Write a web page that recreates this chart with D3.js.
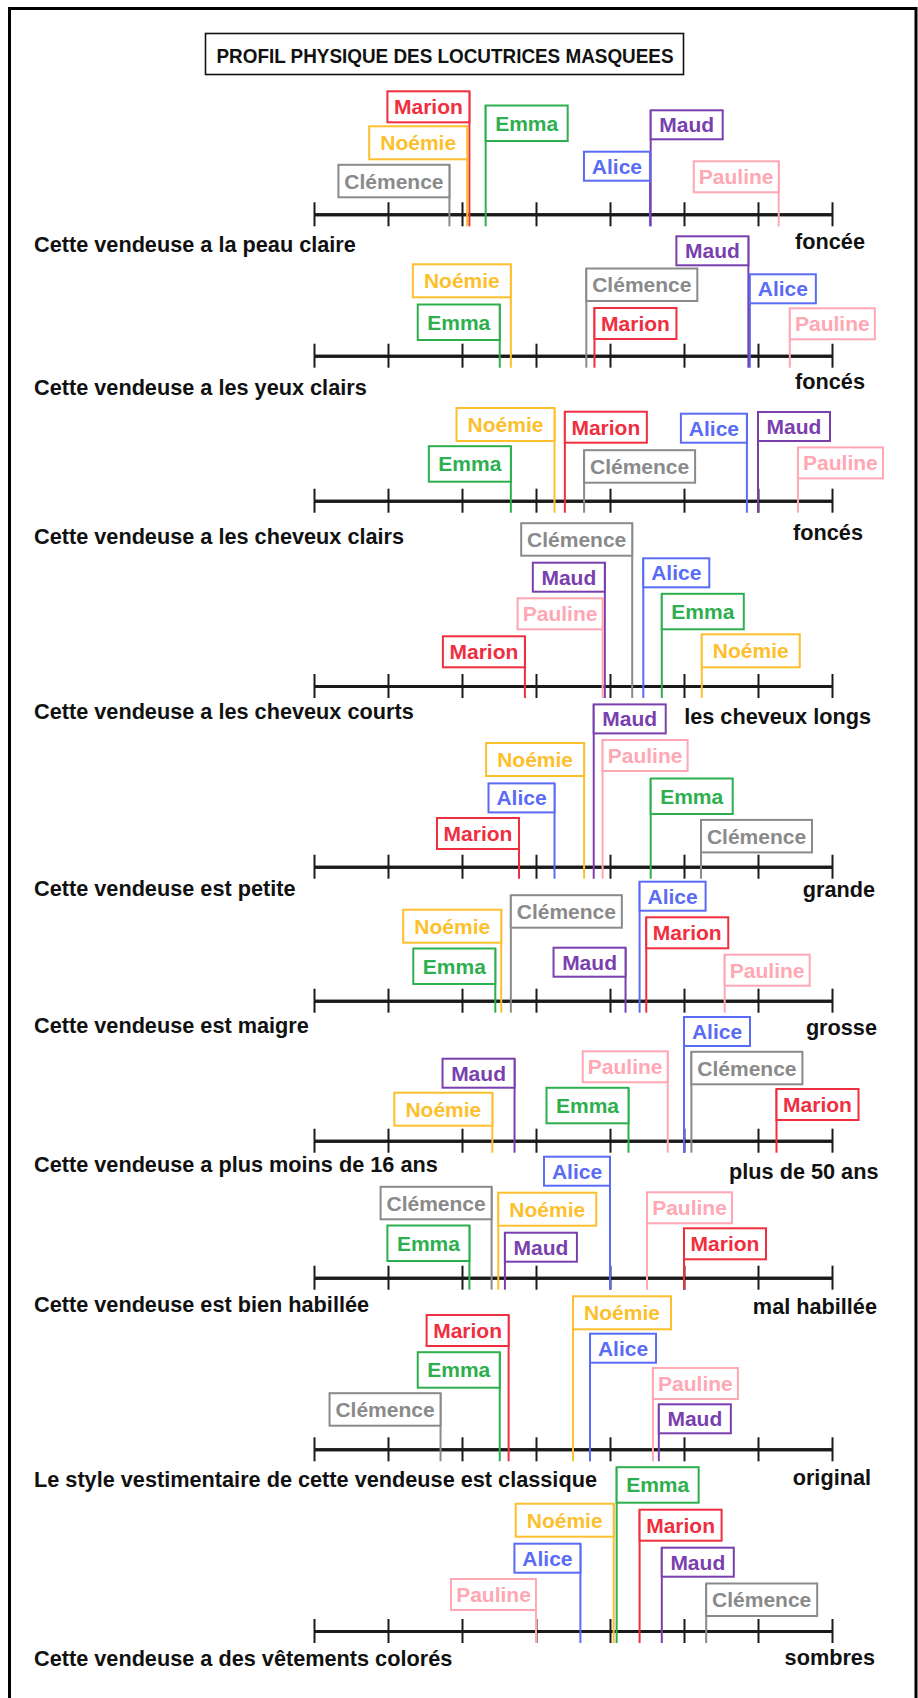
<!DOCTYPE html>
<html>
<head>
<meta charset="utf-8">
<script src="https://cdn.jsdelivr.net/npm/d3@7"></script>
<style>
  html, body { margin: 0; background: #fff; }
  svg { display: block; }
</style>
</head>
<body>
<script>
// --- data -------------------------------------------------------------
const title = 'PROFIL PHYSIQUE DES LOCUTRICES MASQUEES';
const names = ['Alice', 'Clémence', 'Emma', 'Marion', 'Maud', 'Noémie', 'Pauline'];
const leftLabels = [
  'Cette vendeuse a la peau claire',
  'Cette vendeuse a les yeux clairs',
  'Cette vendeuse a les cheveux clairs',
  'Cette vendeuse a les cheveux courts',
  'Cette vendeuse est petite',
  'Cette vendeuse est maigre',
  'Cette vendeuse a plus moins de 16 ans',
  'Cette vendeuse est bien habillée',
  'Le style vestimentaire de cette vendeuse est classique',
  'Cette vendeuse a des vêtements colorés'
];
const rightLabels = ['foncée', 'foncés', 'foncés', 'les cheveux longs', 'grande', 'grosse',
  'plus de 50 ans', 'mal habillée', 'original', 'sombres'];
const scaleTicks = [0, 1, 2, 3, 4, 5, 6, 7];

// position on the scale (0 = left end, 7 = right end), one value per item
const alice    = [4.54, 5.89, 5.85, 4.45, 3.25, 4.40, 5.00, 4.00, 3.73, 3.60];
const clemence = [1.83, 3.68, 3.65, 4.30, 5.23, 2.66, 5.10, 2.40, 1.71, 5.30];
const emma     = [2.32, 2.51, 2.66, 4.70, 4.55, 2.45, 4.25, 2.10, 2.51, 4.09];
const marion   = [2.10, 3.79, 3.39, 2.85, 2.77, 4.49, 6.25, 5.00, 2.63, 4.40];
const maud     = [4.55, 5.87, 6.00, 3.93, 3.78, 4.21, 2.71, 2.58, 4.66, 4.70];
const noemie   = [2.07, 2.66, 3.25, 5.24, 3.65, 2.53, 2.41, 2.49, 3.50, 4.05];
const pauline  = [6.28, 6.43, 6.54, 3.90, 3.90, 5.55, 4.78, 4.50, 4.58, 3.00];

const scores = {
  'Alice': alice, 'Clémence': clemence, 'Emma': emma, 'Marion': marion,
  'Maud': maud, 'Noémie': noemie, 'Pauline': pauline
};

// --- layout -----------------------------------------------------------
const width = 918;
const height = 1698;
const axisY = [214.3, 355.7, 500.7, 686, 866.7, 1000.7, 1140.7, 1277.7, 1449.3, 1631];
const leftBase = [38, 39.6, 42.9, 32.7, 29, 32, 31.3, 34, 37.7, 34.7];
const rightBase = [34.3, 33.3, 39.6, 37.6, 30.3, 34.6, 38.6, 36, 36, 34.3];
const rightEnd = [865, 865, 863, 871, 875, 877, 878.5, 877, 871, 875];

// which side of its stick each name box sits, and how high its bottom is above the axis
const sides = {
  'Alice':    'LRLRLRRLRL',
  'Clémence': 'LRRLRRRLLR',
  'Emma':     'RLLRRLLLLR',
  'Marion':   'LRRLLRRRLR',
  'Maud':     'RLRLRLLRRR',
  'Noémie':   'LLLRLLLRRL',
  'Pauline':  'LRRLRRLRRL'
};
const lifts = {
  'Alice':    [33.6, 52.4, 58, 98.7, 54.3, 90, 94.7, 92, 86.6, 58.3],
  'Clémence': [17, 54.7, 18, 130.3, 14.3, 73, 56.4, 58.4, 23.6, 15],
  'Emma':     [73.3, 15.7, 19, 56.7, 52.7, 16.7, 17.4, 16.7, 61.6, 128.3],
  'Marion':   [92, 16.7, 58, 18.7, 17.7, 52.4, 20.7, 18.4, 103.3, 90.3],
  'Maud':     [75, 90.4, 59.7, 94.3, 133.3, 24, 53, 16, 16, 54.3],
  'Noémie':   [55, 58.4, 59.7, 18.7, 90.7, 58, 15, 52, 120, 94.3],
  'Pauline':  [22, 16.4, 22.3, 56.7, 95.7, 15, 58.4, 54.4, 50.3, 21]
};

const palette = {
  'Alice': '#5a6cf5', 'Clémence': '#8a8a8a', 'Emma': '#2eaf4f', 'Marion': '#ef2f3f',
  'Maud': '#7a3fae', 'Noémie': '#fdbf2d', 'Pauline': '#ffa7b3',
  ink: '#1a1a1a'
};
const boxW = { 'Alice': 66, 'Clémence': 111, 'Emma': 82, 'Marion': 82, 'Maud': 72, 'Noémie': 98, 'Pauline': 85 };
const boxH = { 'Alice': 29, 'Clémence': 32.5, 'Emma': 35.5, 'Marion': 31, 'Maud': 29, 'Noémie': 33, 'Pauline': 31 };
const font = '"Liberation Sans", Arial, Helvetica, sans-serif';
const labelSize = 21.7;

// --- drawing ----------------------------------------------------------
const svg = d3.select('body').append('svg')
  .attr('width', width)
  .attr('height', height)
  .style('font-family', font);

svg.append('rect').attr('width', width).attr('height', height).attr('fill', '#fff');

// frame (no bottom edge in the original)
svg.append('path')
  .attr('d', `M9.5,${height} V8.5 H916 V${height}`)
  .attr('fill', 'none')
  .attr('stroke', '#000')
  .attr('stroke-width', 3);

// title
svg.append('rect')
  .attr('x', 205.5).attr('y', 33.5)
  .attr('width', 478).attr('height', 41)
  .attr('fill', '#fff')
  .attr('stroke', '#111')
  .attr('stroke-width', 1.6);
svg.append('text')
  .attr('x', 445)
  .attr('y', 62.5)
  .attr('text-anchor', 'middle')
  .attr('font-size', 20)
  .attr('font-weight', 700)
  .attr('textLength', 457)
  .attr('lengthAdjust', 'spacingAndGlyphs')
  .attr('fill', '#111')
  .text(title);

const x = d3.scaleLinear().domain([0, 7]).range([314, 832]);

leftLabels.forEach((label, i) => {
  const g = svg.append('g').attr('class', 'item');
  const ay = axisY[i];

  // scale: ticks above and below the line
  [d3.axisBottom(x), d3.axisTop(x)].forEach(axis => {
    const a = g.append('g')
      .attr('transform', `translate(0,${ay})`)
      .call(axis.tickValues(scaleTicks).tickSizeInner(12).tickSizeOuter(0).tickFormat(() => ''));
    a.select('.domain').attr('stroke', palette.ink).attr('stroke-width', 3);
    a.selectAll('.tick line').attr('stroke', palette.ink).attr('stroke-width', 2);
  });

  g.append('text')
    .attr('x', 34)
    .attr('y', ay + leftBase[i])
    .attr('font-size', labelSize)
    .attr('font-weight', 700)
    .attr('fill', '#111')
    .text(label);

  g.append('text')
    .attr('x', rightEnd[i])
    .attr('y', ay + rightBase[i])
    .attr('text-anchor', 'end')
    .attr('font-size', labelSize)
    .attr('font-weight', 700)
    .attr('fill', '#111')
    .text(rightLabels[i]);

  const flags = names.map(n => {
    const lx = x(scores[n][i]);
    const bottom = ay - lifts[n][i];
    const top = bottom - boxH[n];
    const left = sides[n][i] === 'L';
    return { name: n, lx, top, bx: left ? lx - boxW[n] : lx };
  });

  g.selectAll('line.stick')
    .data(flags)
    .enter()
    .append('line')
    .attr('class', 'stick')
    .attr('x1', d => d.lx).attr('x2', d => d.lx)
    .attr('y1', ay + 12).attr('y2', d => d.top)
    .attr('stroke', d => palette[d.name])
    .attr('stroke-width', 2);

  g.selectAll('rect.flag')
    .data(flags)
    .enter()
    .append('rect')
    .attr('class', 'flag')
    .attr('x', d => d.bx)
    .attr('y', d => d.top)
    .attr('width', d => boxW[d.name])
    .attr('height', d => boxH[d.name])
    .attr('fill', '#fff')
    .attr('stroke', d => palette[d.name])
    .attr('stroke-width', 2);

  g.selectAll('text.flag-label')
    .data(flags)
    .enter()
    .append('text')
    .attr('class', 'flag-label')
    .attr('x', d => d.bx + boxW[d.name] / 2)
    .attr('y', d => d.top + boxH[d.name] / 2 + 7.5)
    .attr('text-anchor', 'middle')
    .attr('font-size', 21)
    .attr('font-weight', 700)
    .attr('fill', d => palette[d.name])
    .text(d => d.name);
});
</script>
</body>
</html>
